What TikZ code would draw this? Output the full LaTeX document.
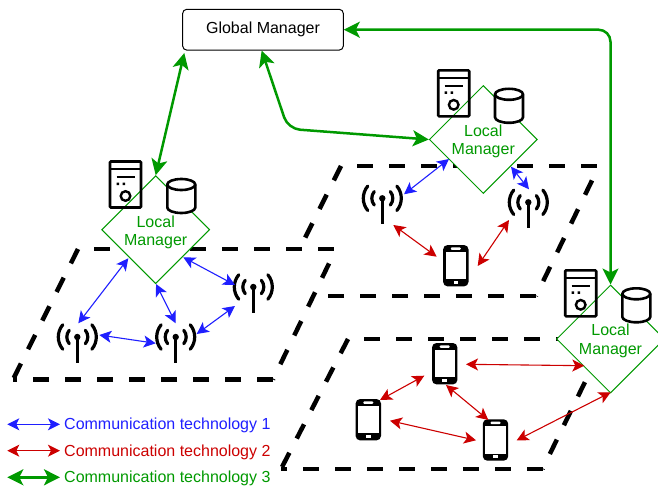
\documentclass[tikz,border=0pt]{standalone}
\usepackage{fontspec}
\setmainfont{Liberation Sans}
\usetikzlibrary{arrows.meta,shapes.geometric}
\definecolor{cblue}{HTML}{1F1FFF}
\definecolor{cred}{HTML}{CC0000}
\definecolor{cgreen}{HTML}{009900}
\tikzset{
  zonefill/.style={fill=white,draw=none},
  zoneon/.style={line width=4.5pt,dash pattern=on 16pt off 16pt,draw=black},
  zoneoff/.style={line width=4.5pt,dash pattern=on 16pt off 16pt,dash phase=16pt,draw=black},
  manager/.style={shape=diamond,draw=cgreen,fill=white,line width=1pt,minimum width=108pt,minimum height=108pt,aspect=1,inner sep=0pt},
  managertext/.style={text=cgreen,align=center,inner sep=0pt,font=\fontsize{16}{18.6}\selectfont},
  box/.style={draw=black,fill=white,rounded corners=4pt,line width=1pt,minimum width=160.6pt,minimum height=40.7pt,inner sep=0pt,font=\fontsize{16}{19}\selectfont},
  legend/.style={anchor=west,inner sep=0pt,font=\fontsize{16}{19}\selectfont},
  tech1/.style={draw=cblue,line width=1.1pt,{Stealth[length=12pt,width=12pt,inset=3pt]}-{Stealth[length=12pt,width=12pt,inset=3pt]}},
  tech2/.style={draw=cred,line width=1.1pt,{Stealth[length=12pt,width=12pt,inset=3pt]}-{Stealth[length=12pt,width=12pt,inset=3pt]}},
  tech3/.style={draw=cgreen,line width=2.5pt,rounded corners=12pt,{Stealth[length=16pt,width=16pt,inset=4pt]}-{Stealth[length=16pt,width=16pt,inset=4pt]}},
  pics/serverpic/.style={code={
    \draw[line width=2.6pt,rounded corners=1pt] (-15.5,-23) rectangle (15.5,23);
    \draw[line width=2.2pt] (-15.5,-15.5) -- (15.5,-15.5);
    \draw[line width=2pt] (-9,-7.5) -- (9,-7.5);
    \fill (-9,-2) rectangle (-6.5,0.5) (-3,-2) rectangle (-0.5,0.5);
    \draw[line width=2.4pt] (0,11.5) circle (4.8);
  }},
  pics/dbpic/.style={code={
    \draw[line width=2.6pt,fill=white] (-14,-11.5) -- (-14,11.5) arc[start angle=180,end angle=0,x radius=14,y radius=5.5] -- (14,-11.5) arc[start angle=0,end angle=-180,x radius=14,y radius=5.5] -- cycle;
    \draw[line width=2.6pt] (-14,-11.5) arc[start angle=180,end angle=0,x radius=14,y radius=5.5];
  }},
  pics/towerpic/.style={code={
    \fill (0,0) circle (3.2);
    \draw[line width=3.2pt] (0,0) -- (0,26);
    \foreach \r in {10.5,19}{
      \draw[line width=3.2pt,line cap=round] (40:\r) arc[start angle=40,end angle=-40,radius=\r];
      \draw[line width=3.2pt,line cap=round] (140:\r) arc[start angle=140,end angle=220,radius=\r];
    }
  }},
  pics/phonepic/.style={code={
    \fill[rounded corners=4.5pt] (-12.7,-20.7) rectangle (12.7,20.7);
    \fill[white] (-10.2,-14) rectangle (10.2,13.5);
    \fill[white,rounded corners=1pt] (-5,-18.3) rectangle (5,-15.8);
    \fill[white] (-2.3,15.2) rectangle (2.3,18);
  }}
}
\begin{document}
\begin{tikzpicture}[x=1pt,y=-1pt]
\useasboundingbox (0,0) rectangle (658,487);
\clip (0,0) rectangle (658,487);
% zone corners
\coordinate (mbl) at (276,296); \coordinate (mtl) at (341,166); \coordinate (mtr) at (599,166); \coordinate (mbr) at (536,296);
\coordinate (lbl) at (13,379.5); \coordinate (ltl) at (78,249); \coordinate (ltr) at (336,249); \coordinate (lbr) at (273,379.5);
\coordinate (rbl) at (281,469); \coordinate (rtl) at (348,339); \coordinate (rtr) at (606,339); \coordinate (rbr) at (542.5,469);
% zones
\draw[zoneon] (mtl) -- (mbl);
\draw[zoneoff] (mtl) -- (mtr);
\draw[zoneoff] (mtr) -- (mbr);
\draw[zoneon] (mbr) -- (mbl);
\fill[zonefill] (lbl) -- (ltl) -- (ltr) -- (lbr) -- cycle;
\draw[zoneon] (ltl) -- (lbl);
\draw[zoneoff] (ltl) -- (ltr);
\draw[zoneoff] (ltr) -- (lbr);
\draw[zoneon] (lbr) -- (lbl);
\draw[zoneon] (rtl) -- (rbl);
\draw[zoneoff] (rtl) -- (rtr);
\draw[zoneoff] (rtr) -- (rbr);
\draw[zoneon] (rbr) -- (rbl);
% managers
\node[box] (gm) at (263,29.7) {\raisebox{-1pt}{Global Manager}};
\node[manager] (lm1) at (155.7,229.7) {};
\node[manager] (lm2) at (483.3,139.5) {};
\node[manager] (lm3) at (610.5,339) {};
\node[managertext] (lm1t) at ([yshift=-2.5pt]lm1.center) {Local\\Manager};
\node[managertext] (lm2t) at ([yshift=-2pt]lm2.center) {Local\\Manager};
\node[managertext] (lm3t) at ([yshift=-2pt]lm3.center) {Local\\Manager};
% icons
\pic (srv1) at (125.5,184.5) {serverpic};
\pic (srv2) at (453.7,93.3) {serverpic};
\pic (srv3) at (580.7,293.3) {serverpic};
\pic (db1) at (181.3,196) {dbpic};
\pic (db2) at (509,105.8) {dbpic};
\pic (db3) at (636.3,305.3) {dbpic};
\pic (t1) at (77.3,337) {towerpic};
\pic (t2) at (175.7,337) {towerpic};
\pic (t3) at (253.3,287) {towerpic};
\pic (t4) at (382.3,198.3) {towerpic};
\pic (t5) at (528.3,202.3) {towerpic};
\pic (p1) at (455.8,265.7) {phonepic};
\pic (p2) at (444.7,363.7) {phonepic};
\pic (p3) at (368.3,419.7) {phonepic};
\pic (p4) at (495.5,440) {phonepic};
% connector ends
\coordinate (a1) at (128.3,258.3); \coordinate (a2) at (78.3,323.3);
\coordinate (b1) at (156,284); \coordinate (b2) at (175.7,323.3);
\coordinate (c1) at (183.3,257.3); \coordinate (c2) at (235,285);
\coordinate (d1) at (235,306); \coordinate (d2) at (196.7,334);
\coordinate (e1) at (99.3,335); \coordinate (e2) at (155.7,343.3);
\coordinate (f1) at (449,159); \coordinate (f2) at (404,194.3);
\coordinate (g1) at (511,166.7); \coordinate (g2) at (529,189.3);
\coordinate (h1) at (393.3,225); \coordinate (h2) at (436.7,256.7);
\coordinate (i1) at (509,220); \coordinate (i2) at (477.7,266);
\coordinate (j1) at (466,364.3); \coordinate (j2) at (584.3,365.7);
\coordinate (k1) at (424.3,375.7); \coordinate (k2) at (380,400);
\coordinate (l1) at (446,385); \coordinate (l2) at (488.3,420);
\coordinate (m1) at (390,420.7); \coordinate (m2) at (476,440.3);
\coordinate (n1) at (516.7,440.3); \coordinate (n2) at (610.7,392.3);
\coordinate (q1) at (184.3,53); \coordinate (q2) at (261.7,50.5); \coordinate (qb) at (288,128.8);
\coordinate (qc) at (610.5,29.7);
% technology 1
\draw[tech1] (a1) -- (a2);
\draw[tech1] (b1) -- (b2);
\draw[tech1] (c1) -- (c2);
\draw[tech1] (d1) -- (d2);
\draw[tech1] (e1) -- (e2);
\draw[tech1] (f1) -- (f2);
\draw[tech1] (g1) -- (g2);
% technology 2
\draw[tech2] (h1) -- (h2);
\draw[tech2] (i1) -- (i2);
\draw[tech2] (j1) -- (j2);
\draw[tech2] (k1) -- (k2);
\draw[tech2] (l1) -- (l2);
\draw[tech2] (m1) -- (m2);
\draw[tech2] (n1) -- (n2);
% technology 3
\draw[tech3] (q1) -- (lm1.north);
\draw[tech3] (q2) -- (qb) -- (lm2.west);
\draw[tech3] (gm.east) -- (qc) -- (lm3.north);
% legend
\node[legend,text=cblue] (l1t) at (64,425.5) {Communication technology 1};
\node[legend,text=cred] (l2t) at (64,452) {Communication technology 2};
\node[legend,text=cgreen] (l3t) at (64,478.5) {Communication technology 3};
\coordinate (la) at (7.3,424.3); \coordinate (lae) at (60,424.3);
\coordinate (lb) at (7.3,450.7); \coordinate (lbe) at (60,450.7);
\coordinate (lc) at (7.3,477.3); \coordinate (lce) at (60,477.3);
\draw[tech1] (la) -- (lae);
\draw[tech2] (lb) -- (lbe);
\draw[tech3] (lc) -- (lce);
\end{tikzpicture}
\end{document}
